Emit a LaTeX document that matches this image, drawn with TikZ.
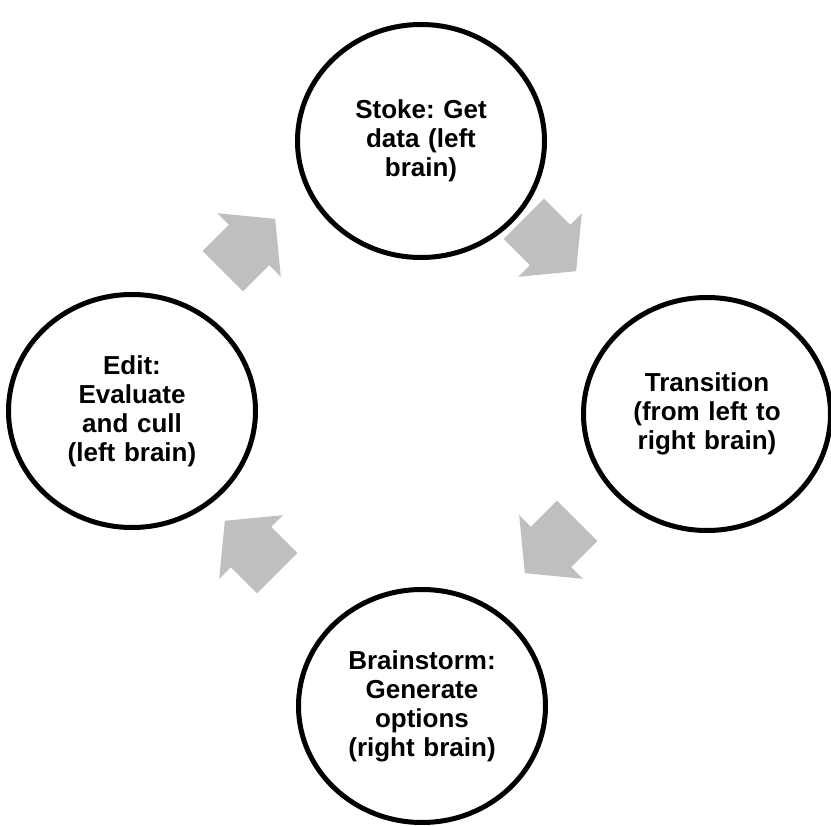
\documentclass[tikz,border=0pt]{standalone}
\usepackage{fontspec}
\setmainfont{Liberation Sans}
\usepackage{tikz}
\usetikzlibrary{shapes.geometric}
\definecolor{arrowgray}{rgb}{0.75,0.75,0.75}
\frenchspacing

% block arrow pointing along +x, centred on the origin
\newcommand{\cyclearrow}[2]{%
  \fill[arrowgray, shift={(#1)}, rotate=#2]
    (-37,-28.5) -- (0,-28.5) -- (0,-45) -- (37,0) -- (0,45) -- (0,28.5) -- (-37,28.5) -- cycle;}

\begin{document}
\begin{tikzpicture}[
  x=1pt, y=-1pt,
  every node/.style={font=\fontsize{26}{29}\selectfont\bfseries},
  stage/.style={ellipse, draw=black, line width=5pt, fill=white,
                minimum width=247pt, minimum height=233pt, inner sep=0pt,
                align=center, text width=165pt}
]
\useasboundingbox (0,0) rectangle (831,826);
% Four stages round the cycle
\node[stage] (stoke) at (421,141) {Stoke: Get\\data (left\\brain)};
\node[stage] (trans) at (707,414) {Transition\\(from left to\\right brain)};
\node[stage] (storm) at (422,706) {Brainstorm:\\Generate\\options\\(right brain)};
\node[stage] (edit)  at (132,411) {Edit:\\Evaluate\\and cull\\(left brain)};
% Arrows between the stages (clockwise)
\coordinate (a1) at (249,245);
\coordinate (a2) at (550,245);
\coordinate (a3) at (551,547);
\coordinate (a4) at (251,547);
\cyclearrow{a1}{45}
\cyclearrow{a2}{-45}
\cyclearrow{a3}{-135}
\cyclearrow{a4}{135}
\end{tikzpicture}
\end{document}
